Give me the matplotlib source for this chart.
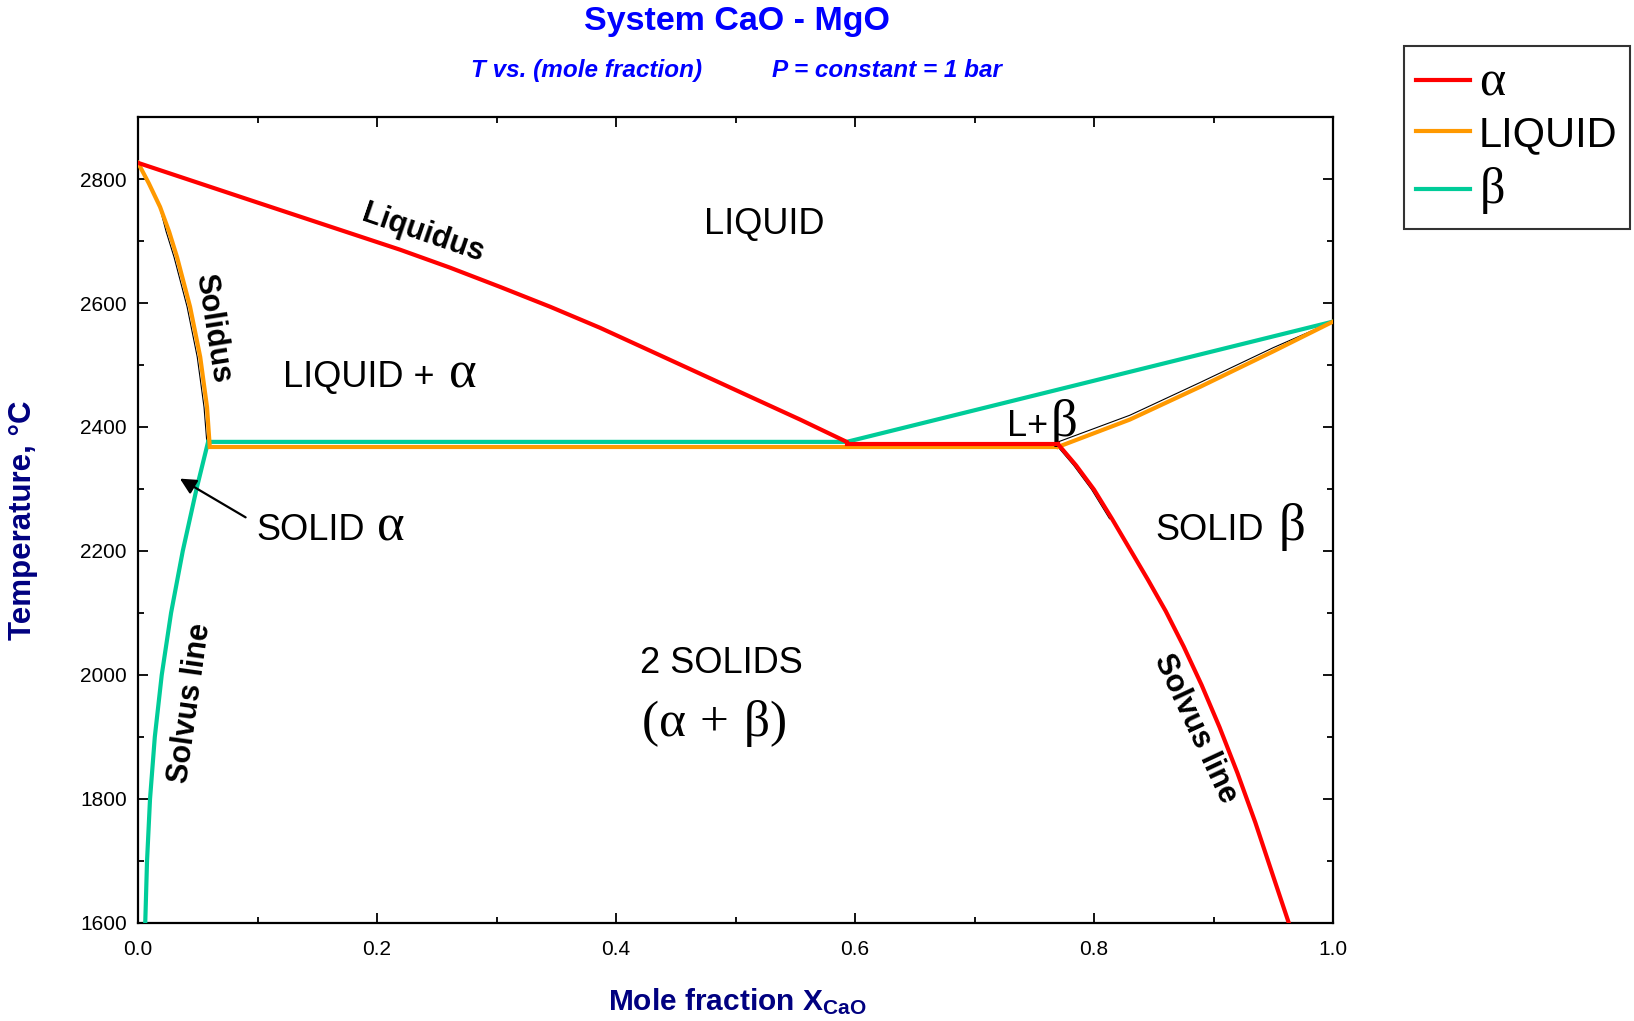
"""CaO - MgO phase diagram: T vs. mole fraction of CaO at 1 bar."""
import matplotlib
matplotlib.use("Agg")
import matplotlib.pyplot as plt
import numpy as np

plt.rcParams["font.family"] = ["Liberation Sans", "DejaVu Sans"]
plt.rcParams["mathtext.fontset"] = "custom"
plt.rcParams["mathtext.rm"] = "Liberation Serif"
plt.rcParams["mathtext.it"] = "Liberation Serif"
plt.rcParams["mathtext.bf"] = "Liberation Sans:bold"

RED = "#ff0000"
ORANGE = "#ff9900"
TEAL = "#00cc99"
NAVY = "#000080"
BLUE = "#0000ff"

# alpha phase boundaries (red)
liquidus_x = [0.0, 0.1, 0.2192, 0.2611, 0.3029, 0.3448, 0.3866, 0.4285,
              0.4703, 0.5121, 0.554, 0.593]
liquidus_T = [2826, 2762, 2686, 2657, 2626, 2594, 2560, 2523,
              2486, 2449, 2412, 2376]
alpha_tie_x = [0.593, 0.770]
alpha_tie_T = [2372, 2372]
solvus_right_x = [0.770, 0.785, 0.800, 0.815, 0.830, 0.845, 0.860, 0.875,
                  0.890, 0.905, 0.920, 0.935, 0.950, 0.963]
solvus_right_T = [2372, 2338, 2299, 2252, 2203, 2154, 2103, 2046,
                  1984, 1916, 1842, 1762, 1675, 1600]

# liquid phase boundaries (orange)
solidus_x = [0.0, 0.009, 0.0184, 0.026, 0.0326, 0.0435, 0.052, 0.0577, 0.060]
solidus_T = [2826, 2793, 2755, 2715, 2674, 2594, 2513, 2432, 2368]
liquid_tie_x = [0.060, 0.770]
liquid_tie_T = [2368, 2368]
liquidus_beta_x = [0.770, 0.830, 0.889, 0.950, 1.0]
liquidus_beta_T = [2368, 2412, 2465, 2522, 2570]

# beta phase boundaries (teal)
solvus_left_x = [0.0060, 0.0075, 0.0100, 0.0140, 0.0198, 0.0276, 0.0374,
                 0.0489, 0.0586]
solvus_left_T = [1600, 1700, 1800, 1900, 2000, 2100, 2200, 2300, 2376]
beta_tie_x = [0.0586, 0.593, 1.0]
beta_tie_T = [2376, 2376, 2570]

# thin black companion curves
thin_left_x = [0.019, 0.0235, 0.0301, 0.041, 0.0495, 0.0552, 0.0575]
thin_left_T = [2748, 2715, 2674, 2594, 2513, 2432, 2376]
thin_right_x = [0.770, 0.830, 0.889, 0.950, 1.0]
thin_right_T = [2376, 2419, 2472, 2528, 2570]
thin_solvus_x = [0.768, 0.783, 0.798, 0.813]
thin_solvus_T = [2372, 2338, 2299, 2252]

x_ticks = [0.0, 0.2, 0.4, 0.6, 0.8, 1.0]
x_ticklabels = ["0.0", "0.2", "0.4", "0.6", "0.8", "1.0"]
y_ticks = [1600, 1800, 2000, 2200, 2400, 2600, 2800]

fig = plt.figure(figsize=(16.34, 10.21), dpi=100)
ax = fig.add_axes([0.0845, 0.0960, 0.7313, 0.7894])

lw = 3
ax.plot(thin_left_x, thin_left_T, color="black", lw=0.8, zorder=2)
ax.plot(thin_right_x, thin_right_T, color="black", lw=0.8, zorder=2)
ax.plot(thin_solvus_x, thin_solvus_T, color="black", lw=0.8, zorder=2)

ax.plot(solvus_left_x, solvus_left_T, color=TEAL, lw=lw, zorder=3)
ax.plot(beta_tie_x, beta_tie_T, color=TEAL, lw=lw, zorder=3)
ax.plot(solidus_x, solidus_T, color=ORANGE, lw=lw, zorder=3)
ax.plot(liquid_tie_x, liquid_tie_T, color=ORANGE, lw=lw, zorder=3)
ax.plot(liquidus_beta_x, liquidus_beta_T, color=ORANGE, lw=lw, zorder=3)
ax.plot(liquidus_x, liquidus_T, color=RED, lw=lw, zorder=4)
ax.plot(alpha_tie_x, alpha_tie_T, color=RED, lw=lw, zorder=4)
ax.plot(solvus_right_x, solvus_right_T, color=RED, lw=lw, zorder=4)

ax.set_xlim(0, 1)
ax.set_ylim(1600, 2900)
ax.set_xticks(x_ticks)
ax.set_xticklabels(x_ticklabels)
ax.set_xticks(np.arange(0.1, 1.0, 0.2), minor=True)
ax.set_yticks(y_ticks)
ax.set_yticks(np.arange(1700, 2901, 200), minor=True)
ax.tick_params(which="both", direction="in", top=True, right=True,
               labelsize=15)
ax.tick_params(axis="x", pad=12)
ax.tick_params(axis="y", pad=8)
ax.tick_params(which="major", length=7, width=1.3)
ax.tick_params(which="minor", length=4.5, width=1.3)
for s in ax.spines.values():
    s.set_linewidth(1.6)

# region and boundary labels
greek = 38
ax.text(0.238, 2712, "Liquidus", fontsize=22, fontweight="bold",
        rotation=-19, ha="center", va="center")
ax.text(0.524, 2727, "LIQUID", fontsize=26, ha="center", va="center")
ax.text(0.062, 2560, "Solidus", fontsize=22, fontweight="bold",
        rotation=-81, ha="center", va="center")
ax.text(0.248, 2465, "LIQUID +", fontsize=26, ha="right", va="baseline")
ax.text(0.259, 2465, r"$\alpha$", fontsize=greek, ha="left", va="baseline")
ax.text(0.762, 2386, "L+", fontsize=26, ha="right", va="baseline")
ax.text(0.763, 2386, r"$\beta$", fontsize=greek, ha="left", va="baseline")
ax.text(0.190, 2218, "SOLID", fontsize=26, ha="right", va="baseline")
ax.text(0.199, 2218, r"$\alpha$", fontsize=greek, ha="left", va="baseline")
ax.text(0.942, 2218, "SOLID", fontsize=26, ha="right", va="baseline")
ax.text(0.954, 2218, r"$\beta$", fontsize=greek, ha="left", va="baseline")
ax.text(0.488, 2018, "2 SOLIDS", fontsize=26, ha="center", va="center")
ax.text(0.482, 1921, r"$(\alpha\,+\,\beta)$", fontsize=37, ha="center",
        va="center")
ax.text(0.0435, 1955, "Solvus line", fontsize=22, fontweight="bold",
        rotation=82, ha="center", va="center")
ax.text(0.885, 1913, "Solvus line", fontsize=22, fontweight="bold",
        rotation=-65, ha="center", va="center")
ax.annotate("", xy=(0.033, 2319), xytext=(0.092, 2252),
            arrowprops=dict(arrowstyle="-|>", color="black", lw=1.6,
                            mutation_scale=24))

# titles and axis labels
fig.text(0.451, 0.979, "System CaO - MgO", fontsize=24.5, fontweight="bold",
         color=BLUE, ha="center", va="center")
fig.text(0.359, 0.931, "T vs. (mole fraction)", fontsize=17.5,
         fontweight="bold", style="italic", color=BLUE, ha="center",
         va="center")
fig.text(0.543, 0.931, "P = constant = 1 bar", fontsize=17.5,
         fontweight="bold", style="italic", color=BLUE, ha="center",
         va="center")
fig.text(0.451, 0.019, r"Mole fraction X$_\mathbf{CaO}$", fontsize=21.5,
         fontweight="bold", color=NAVY, ha="center", va="center")
fig.text(0.014, 0.49, "Temperature, °C", fontsize=22.5, fontweight="bold",
         color=NAVY, rotation=90, ha="center", va="center")

# legend
handles = [plt.Line2D([], [], color=c, lw=3) for c in (RED, ORANGE, TEAL)]
leg = fig.legend(handles, [r"$\alpha$", "LIQUID", r"$\beta$"],
                 loc="upper left", bbox_to_anchor=(0.859, 0.955),
                 fontsize=30, frameon=True, fancybox=False, edgecolor="black",
                 handlelength=1.3, handletextpad=0.2, labelspacing=0.25,
                 borderpad=0.3, borderaxespad=0)
leg.get_frame().set_linewidth(1.5)
leg.get_texts()[0].set_fontsize(36)
leg.get_texts()[2].set_fontsize(36)

fig.savefig("out.png", dpi=100)
